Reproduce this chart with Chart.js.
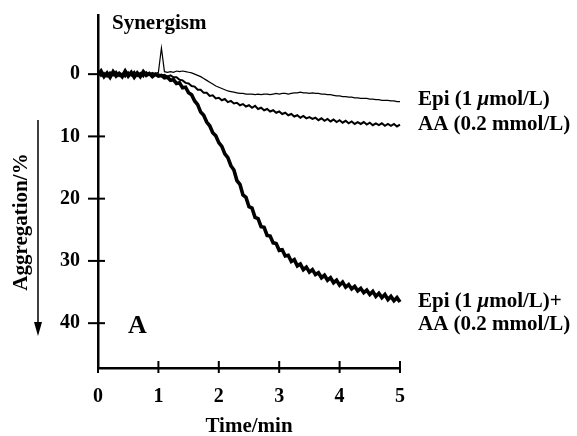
<!DOCTYPE html>
<html>
<head>
<meta charset="utf-8">
<script src="https://cdn.jsdelivr.net/npm/chart.js@4"></script>
<style>
  html, body { margin: 0; padding: 0; background: #fff; }
  #wrap { width: 577px; height: 436px; }
</style>
</head>
<body>
<div id="wrap"><canvas id="aggChart"></canvas></div>
<script>
/* Platelet aggregation traces - synergism panel A */
const FONT = '"Liberation Serif", "DejaVu Serif", serif';
const INK = '#000';

// time axis (min), one reading every 0.05 min
const TIME = [
  0.00, 0.05, 0.10, 0.15, 0.20, 0.25, 0.30, 0.35, 0.40, 0.45,
  0.50, 0.55, 0.60, 0.65, 0.70, 0.75, 0.80, 0.85, 0.90, 0.95,
  1.00, 1.05, 1.10, 1.15, 1.20, 1.25, 1.30, 1.35, 1.40, 1.45,
  1.50, 1.55, 1.60, 1.65, 1.70, 1.75, 1.80, 1.85, 1.90, 1.95,
  2.00, 2.05, 2.10, 2.15, 2.20, 2.25, 2.30, 2.35, 2.40, 2.45,
  2.50, 2.55, 2.60, 2.65, 2.70, 2.75, 2.80, 2.85, 2.90, 2.95,
  3.00, 3.05, 3.10, 3.15, 3.20, 3.25, 3.30, 3.35, 3.40, 3.45,
  3.50, 3.55, 3.60, 3.65, 3.70, 3.75, 3.80, 3.85, 3.90, 3.95,
  4.00, 4.05, 4.10, 4.15, 4.20, 4.25, 4.30, 4.35, 4.40, 4.45,
  4.50, 4.55, 4.60, 4.65, 4.70, 4.75, 4.80, 4.85, 4.90, 4.95,
  5.00, 5.05, 5.10, 5.15
];

// aggregation (%)
const EPI = [
  0.2, -0.3, 0.1, -0.2, 0.3, -0.1, 0.2, -0.3, 0.0, 0.2,
  -0.2, 0.1, -0.3, 0.2, -0.1, 0.1, -0.2, 0.0, -0.2, -0.1,
  -0.3, -4.2, -0.4, -0.3, -0.4, -0.3, -0.5, -0.4, -0.5, -0.4,
  -0.3, -0.2, 0.0, 0.2, 0.4, 0.7, 1.0, 1.3, 1.6, 1.9,
  2.1, 2.3, 2.5, 2.7, 2.8, 2.9, 3.0, 3.1, 3.1, 3.2,
  3.2, 3.2, 3.3, 3.2, 3.3, 3.2, 3.2, 3.3, 3.2, 3.1,
  3.2, 3.1, 3.1, 3.2, 3.1, 3.0, 3.0, 2.9, 3.0, 3.0,
  3.1, 3.0, 3.1, 3.1, 3.2, 3.2, 3.3, 3.3, 3.4, 3.5,
  3.5, 3.6, 3.6, 3.7, 3.7, 3.8, 3.8, 3.9, 3.9, 3.9,
  4.0, 4.0, 4.1, 4.1, 4.2, 4.2, 4.2, 4.3, 4.3, 4.4,
  4.4, 4.4, 4.5, 4.5
];
const AA = [
  -0.4, 0.3, -0.2, 0.4, -0.3, 0.2, -0.4, 0.3, -0.1, 0.4,
  -0.3, 0.2, -0.4, 0.3, -0.2, 0.4, -0.3, 0.1, -0.2, 0.2,
  0.0, 0.3, 0.1, 0.4, 0.2, 0.5, 0.5, 0.9, 1.0, 1.4,
  1.5, 1.9, 2.0, 2.5, 2.5, 3.0, 3.0, 3.5, 3.4, 3.9,
  3.8, 4.2, 4.0, 4.5, 4.3, 4.7, 4.6, 5.0, 4.8, 5.2,
  5.0, 5.4, 5.1, 5.6, 5.4, 5.8, 5.6, 6.0, 5.8, 6.2,
  6.0, 6.4, 6.2, 6.6, 6.4, 6.8, 6.6, 7.0, 6.7, 7.1,
  6.9, 7.2, 7.0, 7.4, 7.1, 7.5, 7.2, 7.6, 7.3, 7.7,
  7.4, 7.8, 7.5, 7.9, 7.6, 8.0, 7.7, 8.0, 7.7, 8.1,
  7.8, 8.2, 7.9, 8.2, 7.9, 8.3, 8.0, 8.3, 8.0, 8.4,
  8.1, 8.4, 8.2, 8.3
];
const EPI_AA = [
  0.1, -0.5, 0.4, -0.2, 0.5, -0.4, 0.3, -0.1, 0.4, -0.5,
  0.3, -0.3, 0.5, -0.2, 0.4, -0.4, 0.2, -0.1, 0.4, 0.0,
  0.3, 0.2, 0.6, 0.5, 1.0, 0.9, 1.5, 1.4, 2.2, 2.1,
  3.0, 3.3, 4.3, 4.9, 6.1, 6.6, 7.7, 8.3, 9.4, 9.9,
  11.0, 11.6, 12.8, 13.4, 14.7, 15.4, 17.1, 17.7, 19.4, 19.8,
  21.3, 21.5, 23.0, 23.2, 24.5, 24.6, 25.9, 26.0, 27.1, 27.2,
  28.3, 28.2, 29.2, 29.1, 30.1, 29.8, 30.8, 30.5, 31.4, 31.0,
  31.8, 31.4, 32.2, 31.9, 32.7, 32.3, 33.1, 32.7, 33.5, 33.1,
  33.9, 33.4, 34.2, 33.8, 34.5, 34.1, 34.8, 34.4, 35.1, 34.7,
  35.4, 34.9, 35.7, 35.2, 35.9, 35.4, 36.2, 35.7, 36.4, 35.9,
  36.6, null, null, null
];

const X_TICKS = [0, 1, 2, 3, 4, 5];
const Y_TICKS = [0, 10, 20, 30, 40];

// label lines; the μ is set in italic like the original
const TRACE_LABELS = [
  { lines: [['Epi (1 ', '\u03BC', 'mol/L)']], y: 105 },
  { lines: [['AA (0.2 mmol/L)']], y: 130 },
  { lines: [['Epi (1 ', '\u03BC', 'mol/L)+'], ['AA (0.2 mmol/L)']], y: 307 }
];

const pts = (ys) => TIME.map((t, i) => ({ x: t, y: ys[i] }));

function drawParts(c, parts, x, y) {
  parts.forEach((s, k) => {
    c.font = (k === 1 ? 'italic bold 21px ' : 'bold 21px ') + FONT;
    c.fillText(s, x, y);
    x += c.measureText(s).width;
  });
}

// crossing ticks, annotations, y title with arrow
const decorations = {
  id: 'decorations',
  beforeDraw(chart) {
    const c = chart.ctx;
    c.save();
    c.fillStyle = '#fff';
    c.fillRect(0, 0, chart.width, chart.height);
    c.restore();
  },
  afterDraw(chart) {
    const c = chart.ctx;
    const xs = chart.scales.x, ys = chart.scales.y;
    const area = chart.chartArea;
    c.save();
    c.strokeStyle = INK;
    c.fillStyle = INK;
    c.lineWidth = 2;
    Y_TICKS.forEach(v => {
      const py = ys.getPixelForValue(v);
      c.beginPath(); c.moveTo(area.left - 10, py); c.lineTo(area.left + 7, py); c.stroke();
    });
    X_TICKS.forEach(v => {
      const px = xs.getPixelForValue(v);
      c.beginPath(); c.moveTo(px, area.bottom - 7); c.lineTo(px, area.bottom + 5); c.stroke();
    });

    c.textBaseline = 'alphabetic';
    c.textAlign = 'left';
    c.font = 'bold 21px ' + FONT;
    c.fillText('Synergism', 112, 29);
    TRACE_LABELS.forEach(lb => {
      lb.lines.forEach((parts, k) => drawParts(c, parts, 418, lb.y + k * 23));
    });
    c.font = 'bold 26px ' + FONT;
    c.fillText('A', 128, 333);

    c.textAlign = 'center';
    c.font = 'bold 21px ' + FONT;
    c.fillText('Time/min', 249, 432);

    c.save();
    c.translate(27, 222);
    c.rotate(-Math.PI / 2);
    c.fillText('Aggregation/%', 0, 0);
    c.restore();

    // downward arrow beside the y title
    c.lineWidth = 1.5;
    c.beginPath(); c.moveTo(38, 120); c.lineTo(38, 328); c.stroke();
    c.beginPath(); c.moveTo(34, 322); c.lineTo(42, 322); c.lineTo(38, 336); c.closePath(); c.fill();
    c.restore();
  }
};

const ctx = document.getElementById('aggChart').getContext('2d');
new Chart(ctx, {
  type: 'line',
  data: {
    datasets: [
      { label: 'Epi', data: pts(EPI), borderColor: INK, borderWidth: 1.2, clip: false },
      { label: 'AA', data: pts(AA), borderColor: INK, borderWidth: 2.0, clip: false },
      { label: 'Epi+AA', data: pts(EPI_AA), borderColor: INK, borderWidth: 3.6, clip: false }
    ]
  },
  options: {
    responsive: true,
    maintainAspectRatio: false,
    animation: false,
    devicePixelRatio: 1,
    layout: { padding: { left: 0, right: 177, top: 15, bottom: 0 } },
    elements: { point: { radius: 0 }, line: { tension: 0 } },
    scales: {
      x: {
        type: 'linear',
        min: 0, max: 5,
        afterBuildTicks: s => { s.ticks = X_TICKS.map(v => ({ value: v })); },
        afterFit: s => { s.height = 68; s.paddingLeft = 0; s.paddingRight = 0; },
        grid: { display: false },
        border: { display: true, color: INK, width: 2.5 },
        ticks: { color: INK, padding: 9, font: { family: FONT, size: 20, weight: 'bold' } }
      },
      y: {
        reverse: true,
        min: -9.5, max: 47.2,
        afterBuildTicks: s => { s.ticks = Y_TICKS.map(v => ({ value: v })); },
        afterFit: s => { s.width = 98; s.paddingTop = 0; s.paddingBottom = 0; },
        grid: { display: false },
        border: { display: true, color: INK, width: 2.5 },
        ticks: { color: INK, padding: 10, font: { family: FONT, size: 20, weight: 'bold' } }
      }
    },
    plugins: { legend: { display: false }, tooltip: { enabled: false } }
  },
  plugins: [decorations]
});
</script>
</body>
</html>
